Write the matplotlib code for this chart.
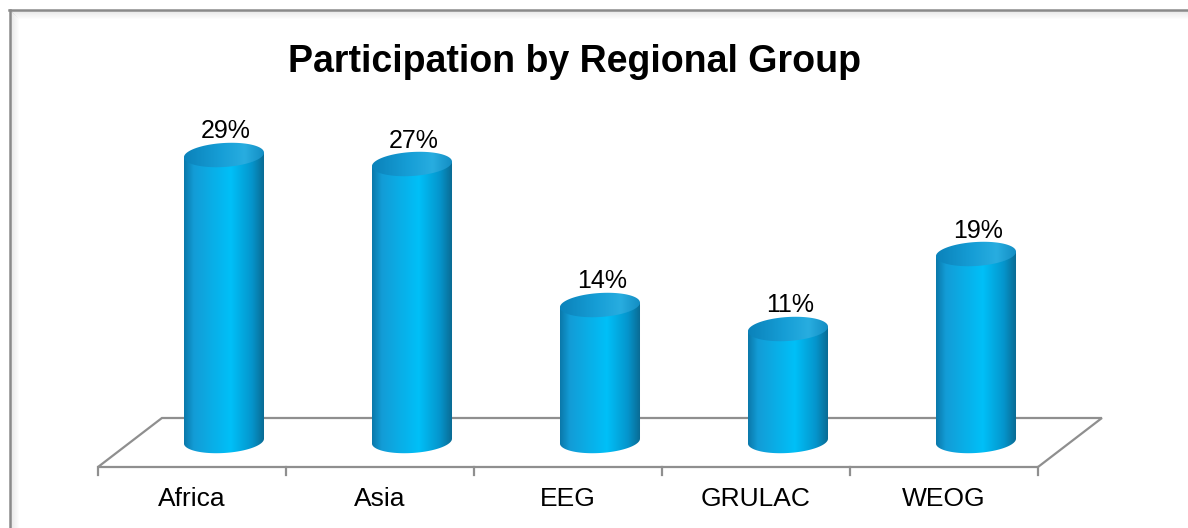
import numpy as np
import matplotlib.pyplot as plt
from matplotlib.patches import PathPatch, Polygon
from matplotlib.path import Path
from matplotlib.lines import Line2D
from matplotlib.colors import LinearSegmentedColormap

plt.rcParams['font.family'] = ['Liberation Sans', 'DejaVu Sans']

# data
regions = ['Africa', 'Asia', 'EEG', 'GRULAC', 'WEOG']
heights = [28.6, 27.7, 13.6, 11.2, 18.7]   # bar heights as drawn
pct_labels = ['29%', '27%', '14%', '11%', '19%']
title = 'Participation by Regional Group'

# colour ramps for the cylinders
side_cmap = LinearSegmentedColormap.from_list('side', [
    (0.00, '#0a78aa'), (0.12, '#139cd6'), (0.58, '#00c0f8'),
    (0.84, '#0595cc'), (1.00, '#0a6890')])
top_cmap = LinearSegmentedColormap.from_list('top', [
    (0.00, '#0b82ba'), (0.45, '#169ed6'), (0.75, '#28ade0'),
    (1.00, '#138cc2')])

fig = plt.figure(figsize=(11.88, 5.28), dpi=100)
ax = fig.add_axes([0, 0, 1, 1])
ax.axis('off')

depth = 0.34      # back edge shift of the floor (category units)
shift = depth / 2  # cylinders sit half way back
half_w = 0.213    # cylinder half width
ell_h = 2.4       # ellipse height (value units)
tilt = 1.1        # slight perspective tilt of the ellipses
n = len(regions)
x = np.arange(n)

# floor
front, back = -2.6, 2.3
floor = Polygon([(-0.5, front), (-0.5 + depth, back),
                 (n - 0.5 + depth, back), (n - 0.5, front)],
                closed=True, fill=False, edgecolor='#8f8f8f', lw=1.6, zorder=1)
ax.add_patch(floor)
for t in np.arange(n + 1) - 0.5:
    ax.plot([t, t], [front, -3.4], color='#8f8f8f', lw=1.6, zorder=1)

grad = np.linspace(0, 1, 256).reshape(1, -1)


def ellipse_pts(cx, cy, th):
    ex = cx + half_w * np.cos(th)
    ey = cy + ell_h / 2 * np.sin(th) + tilt * (ex - cx)
    return list(zip(ex, ey))


for i, h in enumerate(heights):
    cx = x[i] + shift
    x0, x1 = cx - half_w, cx + half_w
    b = ell_h / 2
    dt = tilt * half_w
    # side of the cylinder
    pts = [(x0, h - dt)]
    pts += ellipse_pts(cx, 0, np.linspace(np.pi, 2 * np.pi, 60))
    pts += [(x1, h + dt), (x0, h - dt)]
    side = PathPatch(Path(pts), facecolor='none', edgecolor='none')
    ax.add_patch(side)
    im = ax.imshow(grad, cmap=side_cmap, extent=(x0, x1, -b - dt, h + dt),
                   aspect='auto', zorder=2, interpolation='bilinear')
    im.set_clip_path(side)
    # top cap
    cpts = ellipse_pts(cx, h, np.linspace(0, 2 * np.pi, 100))
    cap = PathPatch(Path(cpts + [cpts[0]]), facecolor='none', edgecolor='none')
    ax.add_patch(cap)
    im2 = ax.imshow(grad, cmap=top_cmap,
                    extent=(x0, x1, h - b - dt, h + b + dt),
                    aspect='auto', zorder=3, interpolation='bilinear')
    im2.set_clip_path(cap)
    ax.text(cx + 0.01, h + 1.65, pct_labels[i], ha='center', va='baseline',
            fontsize=18, zorder=4)

for i, r in enumerate(regions):
    ax.text(x[i], -5.8, r, ha='center', va='center', fontsize=19)

ax.set_xlim(-192 / 188, (1188 - 192) / 188)
ax.set_ylim(-8.7, 44.1)

fig.text(574 / 1188, 1 - 72 / 528, title, ha='center', va='baseline',
         fontsize=27, fontweight='bold')

# chart border with a soft inner shadow
W, H = 1188, 528
for k in range(1, 9):
    a = 0.10 * (1 - k / 9)
    fig.add_artist(Line2D([(10 + k) / W, 1], [1 - (10 + k) / H] * 2,
                          color='black', alpha=a, lw=0.75))
    fig.add_artist(Line2D([(10 + k) / W] * 2, [0, 1 - (10 + k) / H],
                          color='black', alpha=a, lw=0.75))
fig.add_artist(Line2D([9 / W, 1], [1 - 10 / H] * 2, color='#8a8a8a', lw=1.8))
fig.add_artist(Line2D([10 / W] * 2, [0, 1 - 10 / H], color='#8a8a8a', lw=1.8))

fig.savefig('out.png', dpi=100)
